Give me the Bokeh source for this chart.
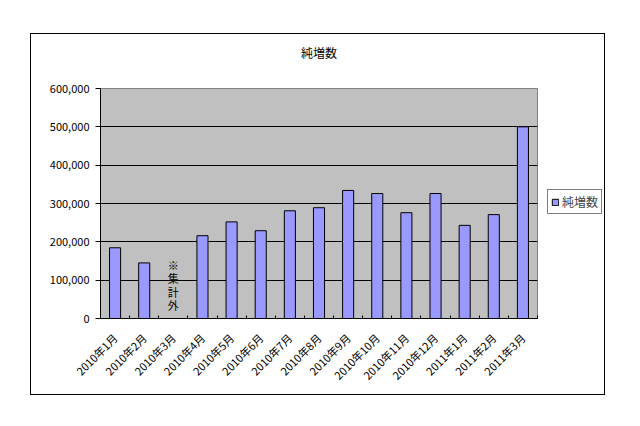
import math
from bokeh.plotting import figure
from bokeh.layouts import row
from bokeh.models import (FixedTicker, NumeralTickFormatter, Legend, LegendItem,
                          ColumnDataSource, Range1d, Title)
from bokeh.core.properties import value
from bokeh.embed import file_html
from bokeh.resources import INLINE

# ---- data ----
title_text = "純増数"
series_name = "純増数"
months = ["2010年1月", "2010年2月", "2010年3月", "2010年4月", "2010年5月",
          "2010年6月", "2010年7月", "2010年8月", "2010年9月", "2010年10月",
          "2010年11月", "2010年12月", "2011年1月", "2011年2月", "2011年3月"]
net_increase = [184500, 145000, None, 216000, 252000,
                229000, 281000, 289000, 334000, 326000,
                276000, 326000, 243000, 271000, 500000]
note_text = "※\n集\n計\n外"
y_ticks = [0, 100000, 200000, 300000, 400000, 500000, 600000]

FONT = "Noto Sans CJK JP"
BAR = "#9999FF"

n = len(months)
centers = [i + 0.5 for i in range(n)]
bx = [c for c, v in zip(centers, net_increase) if v is not None]
bt = [v for v in net_increase if v is not None]
src = ColumnDataSource(dict(x=bx, top=bt))

p = figure(width=507, height=360, output_backend="svg", toolbar_location=None,
           x_range=Range1d(0, n), y_range=Range1d(y_ticks[0], y_ticks[-1]),
           min_border_left=69, min_border_right=1, min_border_top=54,
           min_border_bottom=76, title=title_text)

p.background_fill_color = "#C0C0C0"
p.border_fill_color = "white"
p.outline_line_color = "#808080"
p.outline_line_width = 1

p.title.align = "center"
p.title.text_font = FONT
p.title.text_font_size = "12px"
p.title.text_font_style = "normal"
p.title.text_color = "black"
p.title.standoff = 0

# blank spacer between the title and the plot area
p.add_layout(Title(text=" ", text_font=FONT, text_font_size="12px",
                   standoff=9), "above")

r = p.vbar(x="x", top="top", width=0.38, bottom=0, source=src,
           fill_color=BAR, line_color="black", line_width=1)

# missing-month note
miss = [c for c, v in zip(centers, net_increase) if v is None]
p.text(x=miss, y=[0] * len(miss), text=[note_text] * len(miss),
       text_font=value(FONT), text_font_size="11px", text_align="center",
       text_baseline="bottom", y_offset=-5, text_line_height=0.85,
       text_color="black")

# x axis
xa = p.xaxis[0]
xa.ticker = FixedTicker(ticks=centers, minor_ticks=list(range(n + 1)))
xa.major_label_overrides = {c: m for c, m in zip(centers, months)}
xa.major_label_orientation = math.pi / 4
xa.major_tick_in = 0
xa.major_tick_out = 0
xa.minor_tick_in = 3
xa.minor_tick_out = 0
xa.minor_tick_line_color = "black"
xa.axis_line_color = "black"
xa.major_label_text_font = FONT
xa.major_label_text_font_size = "11px"
xa.major_label_text_color = "black"
xa.major_label_standoff = 17

# y axis
ya = p.yaxis[0]
ya.ticker = FixedTicker(ticks=y_ticks)
ya.formatter = NumeralTickFormatter(format="0,0")
ya.major_tick_in = 0
ya.major_tick_out = 5
ya.minor_tick_line_color = None
ya.axis_line_color = "black"
ya.major_tick_line_color = "black"
ya.major_label_text_font = FONT
ya.major_label_text_font_size = "11px"
ya.major_label_text_color = "black"
ya.major_label_standoff = 6

p.xgrid.grid_line_color = None
p.ygrid.ticker = FixedTicker(ticks=y_ticks[1:-1])
p.ygrid.grid_line_color = "black"
p.ygrid.grid_line_alpha = 1.0

# legend panel (separate small figure to the right of the plot area)
p2 = figure(width=66, height=360, output_backend="svg", toolbar_location=None,
            x_axis_location=None, y_axis_location=None,
            min_border_left=0, min_border_right=0, min_border_top=0,
            min_border_bottom=0)
p2.grid.visible = False
p2.outline_line_color = None
p2.background_fill_color = "white"
p2.border_fill_color = "white"
# proxy renderer for the legend swatch (hidden; only its style is used)
r2 = p2.vbar(x=bx[:1], top=bt[:1], width=0.38, fill_color=BAR,
             line_color="black", line_width=1, visible=False)

legend = Legend(items=[LegendItem(label=series_name, renderers=[r2])],
                location=(9, 104),
                padding=3, margin=0, glyph_width=8, glyph_height=8,
                label_standoff=3, label_height=12,
                label_text_font=FONT, label_text_font_size="12px",
                border_line_color="black", border_line_width=1,
                background_fill_color="white", background_fill_alpha=1,
                inactive_fill_alpha=0, click_policy="none")
p2.add_layout(legend, "center")

layout = row(p, p2, margin=(33, 0, 0, 30),
             styles={"border": "1px solid black", "background": "white"})

open("out.html", "w").write(file_html(layout, INLINE))
